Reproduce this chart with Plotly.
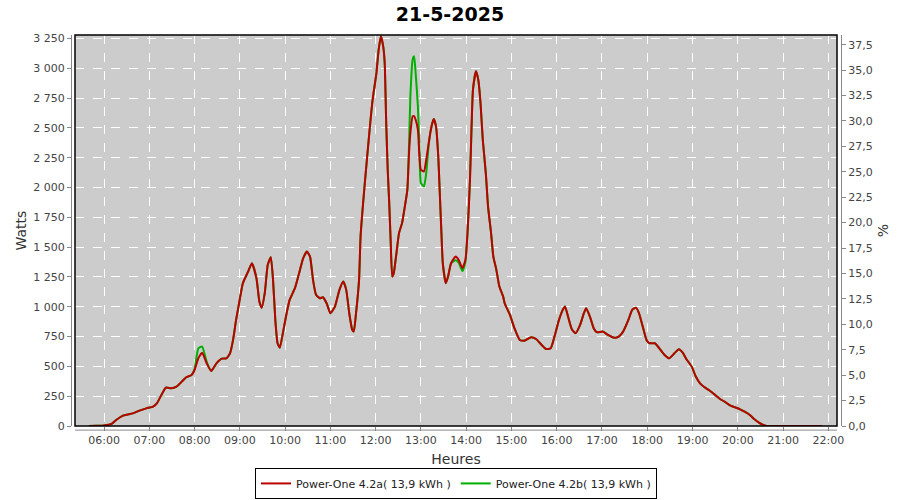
import plotly.graph_objects as go

day = "2025-05-21 "

times = ["05:40","05:50","06:00","06:10","06:16","06:25","06:38","06:47","06:56","07:05",
         "07:10","07:16","07:22","07:29","07:36","07:43","07:49","07:56","08:00","08:05",
         "08:10","08:16","08:22","08:29","08:36","08:42","08:47","08:51","08:55","08:59",
         "09:04","09:11","09:16","09:22","09:26","09:29","09:33","09:37","09:41","09:44",
         "09:47","09:50","09:53","09:57","10:02","10:06","10:13","10:18","10:24","10:29",
         "10:33","10:37","10:41","10:46","10:50","10:55","11:00","11:06","11:12","11:17",
         "11:21","11:25","11:29","11:31","11:34","11:38","11:40","11:43","11:46","11:52",
         "11:56","12:01","12:04","12:07","12:10","12:12","12:14","12:16","12:18","12:20",
         "12:22","12:24","12:27","12:31","12:35","12:38","12:42","12:44","12:46","12:49",
         "12:51","12:53","12:56","12:58","13:00","13:04","13:07","13:11","13:14","13:17",
         "13:20","13:23","13:25","13:27","13:29","13:33","13:36","13:40","13:46","13:50",
         "13:55","13:59","14:02","14:05","14:07","14:09","14:13","14:16","14:19","14:22",
         "14:26","14:29","14:33","14:36","14:40","14:44","14:49","14:51","14:58","15:04",
         "15:11","15:17","15:26","15:33","15:40","15:46","15:52","15:57","16:03","16:08",
         "16:11","16:15","16:20","16:25","16:31","16:36","16:39","16:44","16:49","16:53",
         "17:01","17:08","17:15","17:21","17:28","17:35","17:40","17:45","17:49","17:54",
         "17:59","18:03","18:10","18:16","18:23","18:29","18:36","18:42","18:47","18:52",
         "18:59","19:04","19:10","19:16","19:23","19:30","19:36","19:43","19:49","19:56",
         "20:03","20:09","20:16","20:22","20:28","20:33","20:38","21:00","21:30","21:52"]

watts_a = [0,2,5,17,50,87,106,129,148,162,
           190,260,322,316,330,372,409,428,470,568,
           615,526,462,526,565,568,610,722,890,1030,
           1198,1296,1366,1240,1040,993,1114,1352,1416,1226,
           890,694,657,778,946,1058,1156,1268,1408,1463,
           1421,1226,1100,1072,1080,1030,946,1002,1142,1212,
           1142,946,806,792,946,1226,1589,1841,2065,2485,
           2737,2961,3157,3269,3185,3045,2541,2149,1870,1534,
           1254,1282,1421,1618,1702,1814,1981,2261,2457,2597,
           2600,2569,2485,2261,2149,2135,2233,2401,2513,2575,
           2513,2261,1954,1646,1366,1198,1254,1366,1421,1394,
           1324,1394,1646,2065,2485,2821,2975,2905,2709,2401,
           2121,1841,1618,1421,1310,1170,1086,1030,932,820,
           722,716,745,728,680,646,652,750,890,974,
           1002,918,812,778,848,946,988,918,820,787,
           792,764,742,745,792,890,974,993,946,834,
           722,694,694,652,596,568,610,644,615,560,
           498,420,358,325,296,260,229,202,176,157,
           140,120,92,56,28,11,0,0,0,0]

watts_b = [0,2,5,17,50,87,106,129,148,162,
           190,260,322,316,330,372,409,428,480,652,
           666,540,462,526,565,568,610,722,890,1030,
           1198,1296,1366,1240,1040,993,1114,1352,1416,1226,
           890,694,657,778,946,1058,1156,1268,1408,1463,
           1421,1226,1100,1072,1080,1030,946,1002,1142,1212,
           1142,946,806,792,946,1226,1589,1841,2065,2485,
           2737,2961,3157,3269,3185,3045,2541,2149,1870,1534,
           1254,1282,1421,1618,1702,1814,1981,2300,2765,3073,
           3101,2961,2681,2345,2038,2009,2121,2401,2513,2575,
           2513,2261,1954,1646,1366,1198,1254,1366,1390,1370,
           1300,1380,1646,2065,2485,2821,2975,2905,2709,2401,
           2121,1841,1618,1421,1310,1170,1086,1030,932,820,
           722,716,745,728,680,646,652,750,890,974,
           1002,918,812,778,848,946,988,918,820,787,
           792,764,742,745,792,890,974,993,946,834,
           722,694,694,652,596,568,610,644,615,560,
           498,420,358,325,296,260,229,202,176,157,
           140,120,92,56,28,11,0,0,0,0]

name_a = "Power-One 4.2a( 13,9 kWh )"
name_b = "Power-One 4.2b( 13,9 kWh )"
title_text = "21-5-2025"

x = [day + t for t in times]

fig = go.Figure()
fig.add_trace(go.Scatter(x=x, y=watts_b, name=name_b, mode="lines",
                         line=dict(color="#00b000", width=2, shape="spline", smoothing=0.5),
                         legendrank=2))
fig.add_trace(go.Scatter(x=x, y=watts_a, name=name_a, mode="lines",
                         line=dict(color="#bb0000", width=2, shape="spline", smoothing=0.5),
                         legendrank=1))
fig.add_trace(go.Scatter(x=[], y=[], yaxis="y2", showlegend=False))

tickfont = dict(family="DejaVu Sans", size=11, color="#444444")

fig.update_layout(
    width=900, height=500,
    margin=dict(l=75, r=63, t=35, b=74, autoexpand=False),
    paper_bgcolor="white",
    plot_bgcolor="#cccccc",
    separators=", ",
    title=dict(text="<b>" + title_text + "</b>", x=0.5, xanchor="center",
               y=0.972, yanchor="middle", yref="container",
               font=dict(family="DejaVu Sans", size=19, color="black")),
    xaxis=dict(type="date",
               range=[day + "05:21:30", day + "22:11:30"],
               tickformat="%H:%M", dtick=3600000, tick0=day + "06:00",
               showgrid=True, gridcolor="white", griddash="dash", gridwidth=1,
               ticks="outside", ticklen=4, tickcolor="#888888",
               tickfont=tickfont, showline=False, zeroline=False, automargin=False,
               title=dict(text="Heures", font=dict(family="DejaVu Sans", size=14, color="#333333"),
                          standoff=7)),
    yaxis=dict(range=[0, 3280], dtick=250, tickformat=",d",
               showgrid=True, gridcolor="white", griddash="dash", gridwidth=1,
               anchor="free", position=0, shift=-4, automargin=False,
               ticks="outside", ticklen=4, tickcolor="#888888",
               showline=True, linecolor="#888888", linewidth=1,
               tickfont=tickfont, zeroline=False,
               title=dict(text="Watts", font=dict(family="DejaVu Sans", size=14, color="#333333"),
                          standoff=2)),
    yaxis2=dict(range=[0, 38.45], dtick=2.5, tickformat=".1f",
                overlaying="y", side="right", anchor="free", position=1, shift=4,
                showgrid=False, zeroline=False, automargin=False,
                ticks="outside", ticklen=4, tickcolor="#888888",
                showline=True, linecolor="#888888", linewidth=1,
                tickfont=tickfont,
                title=dict(text="%", font=dict(family="DejaVu Sans", size=14, color="#333333"),
                           standoff=6)),
    legend=dict(orientation="h", x=0.5, xanchor="center", y=-0.1865, yanchor="bottom",
                bgcolor="white", bordercolor="black", borderwidth=1,
                font=dict(family="DejaVu Sans", size=11, color="#222222"),
                traceorder="normal", itemwidth=30, tracegroupgap=0),
    showlegend=True,
    shapes=[
        dict(type="rect", xref="paper", yref="paper", x0=0, x1=1, y0=0, y1=1,
             line=dict(color="black", width=1.5), fillcolor="rgba(0,0,0,0)", layer="above"),
        dict(type="line", xref="paper", yref="paper", x0=0, x1=1, y0=-0.0105, y1=-0.0105,
             line=dict(color="#888888", width=1)),
    ],
)

fig.write_html("out.html", config={"displayModeBar": False},
               post_script="document.body.style.margin='0';")
